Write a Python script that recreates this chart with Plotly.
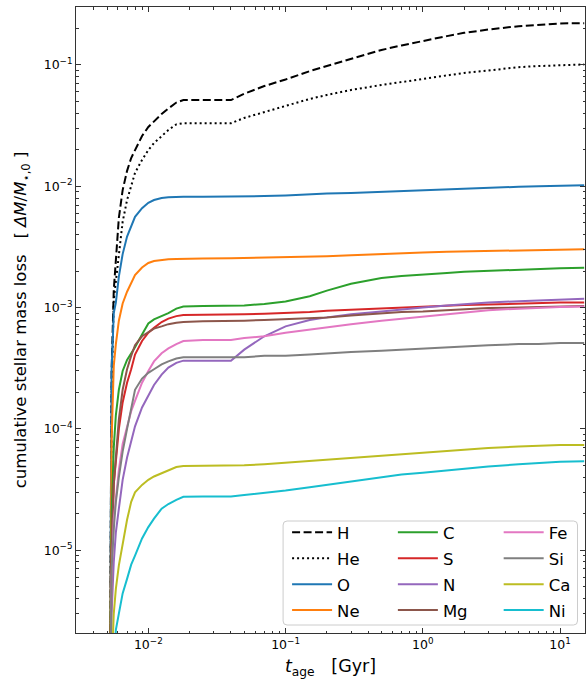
import plotly.graph_objects as go

# Time grid (Gyr)
t_age = [0.0052, 0.0054, 0.0056, 0.0058, 0.0061, 0.0065, 0.007, 0.0075, 0.008, 0.009,
         0.010, 0.011, 0.0125, 0.014, 0.016, 0.018, 0.025, 0.04, 0.05, 0.07,
         0.1, 0.15, 0.2, 0.3, 0.5, 0.7, 1.0, 1.5, 2.0, 3.0,
         5.0, 7.0, 10.0, 15.0]

H = [1e-7, 3e-4, 1.4e-3, 2.7e-3, 5.5e-3, 9.3e-3, 1.34e-2, 1.71e-2, 2.0e-2, 2.6e-2,
     3.08e-2, 3.45e-2, 3.94e-2, 4.38e-2, 4.9e-2, 5.14e-2, 5.14e-2, 5.14e-2, 5.8e-2, 6.7e-2,
     7.6e-2, 8.9e-2, 9.8e-2, 0.112, 0.133, 0.145, 0.158, 0.173, 0.184, 0.196,
     0.209, 0.215, 0.220, 0.221]
He = [1e-7, 2e-4, 1.16e-3, 1.6e-3, 2.7e-3, 5.1e-3, 7.7e-3, 1.02e-2, 1.29e-2, 1.65e-2,
      1.99e-2, 2.27e-2, 2.6e-2, 2.91e-2, 3.24e-2, 3.31e-2, 3.31e-2, 3.31e-2, 3.66e-2, 4.1e-2,
      4.6e-2, 5.25e-2, 5.66e-2, 6.22e-2, 6.84e-2, 7.24e-2, 7.67e-2, 8.27e-2, 8.6e-2, 9.0e-2,
      9.6e-2, 9.8e-2, 0.100, 0.101]
O = [1e-7, 3e-4, 9e-4, 1.1e-3, 1.8e-3, 2.76e-3, 3.85e-3, 4.7e-3, 5.6e-3, 6.6e-3,
     7.3e-3, 7.7e-3, 8.0e-3, 8.1e-3, 8.2e-3, 8.2e-3, 8.2e-3, 8.2e-3, 8.3e-3, 8.3e-3,
     8.4e-3, 8.6e-3, 8.7e-3, 8.8e-3, 9.0e-3, 9.2e-3, 9.3e-3, 9.5e-3, 9.6e-3, 9.8e-3,
     9.9e-3, 1.0e-2, 1.01e-2, 1.02e-2]
Ne = [1e-7, 8e-5, 3.3e-4, 5e-4, 7.8e-4, 1.08e-3, 1.35e-3, 1.6e-3, 1.85e-3, 2.14e-3,
      2.33e-3, 2.42e-3, 2.47e-3, 2.5e-3, 2.52e-3, 2.53e-3, 2.54e-3, 2.55e-3, 2.56e-3, 2.57e-3,
      2.59e-3, 2.62e-3, 2.65e-3, 2.7e-3, 2.77e-3, 2.8e-3, 2.84e-3, 2.88e-3, 2.9e-3, 2.94e-3,
      2.98e-3, 3.0e-3, 3.02e-3, 3.03e-3]
C = [1e-7, 2e-5, 7e-5, 1.3e-4, 2.1e-4, 3.0e-4, 3.7e-4, 4.2e-4, 4.7e-4, 6.0e-4,
     7.4e-4, 8.0e-4, 8.5e-4, 9.0e-4, 9.8e-4, 1.02e-3, 1.03e-3, 1.03e-3, 1.04e-3, 1.07e-3,
     1.12e-3, 1.24e-3, 1.38e-3, 1.57e-3, 1.75e-3, 1.82e-3, 1.88e-3, 1.93e-3, 1.97e-3, 2.01e-3,
     2.06e-3, 2.09e-3, 2.11e-3, 2.13e-3]
S = [1e-7, 1e-5, 3.5e-5, 5.5e-5, 1.0e-4, 1.65e-4, 2.4e-4, 3.1e-4, 4.1e-4, 5.3e-4,
     6.2e-4, 6.8e-4, 7.6e-4, 8.1e-4, 8.5e-4, 8.7e-4, 8.7e-4, 8.7e-4, 8.8e-4, 8.9e-4,
     9.0e-4, 9.2e-4, 9.4e-4, 9.6e-4, 9.8e-4, 1.0e-3, 1.02e-3, 1.04e-3, 1.05e-3, 1.06e-3,
     1.08e-3, 1.09e-3, 1.1e-3, 1.1e-3]
N = [1e-7, 3e-6, 8e-6, 1.4e-5, 2.2e-5, 3.8e-5, 5.8e-5, 8.0e-5, 1.05e-4, 1.5e-4,
     1.9e-4, 2.3e-4, 2.8e-4, 3.2e-4, 3.5e-4, 3.65e-4, 3.65e-4, 3.65e-4, 4.5e-4, 5.8e-4,
     7.0e-4, 7.9e-4, 8.3e-4, 8.8e-4, 9.3e-4, 9.7e-4, 1.0e-3, 1.04e-3, 1.07e-3, 1.1e-3,
     1.13e-3, 1.15e-3, 1.17e-3, 1.18e-3]
Mg = [1e-7, 1e-5, 3.5e-5, 6e-5, 1.2e-4, 2.1e-4, 3.1e-4, 4.0e-4, 4.9e-4, 5.8e-4,
      6.3e-4, 6.7e-4, 7.0e-4, 7.3e-4, 7.5e-4, 7.6e-4, 7.7e-4, 7.7e-4, 7.8e-4, 7.9e-4,
      8.0e-4, 8.2e-4, 8.3e-4, 8.6e-4, 9.0e-4, 9.2e-4, 9.3e-4, 9.5e-4, 9.7e-4, 9.9e-4,
      1.0e-3, 1.01e-3, 1.02e-3, 1.03e-3]
Fe = [1e-7, 6e-6, 1.8e-5, 2.8e-5, 4.6e-5, 7.5e-5, 1.05e-4, 1.4e-4, 1.7e-4, 2.4e-4,
      3.0e-4, 3.6e-4, 4.2e-4, 4.6e-4, 5.0e-4, 5.3e-4, 5.4e-4, 5.4e-4, 5.6e-4, 5.8e-4,
      6.2e-4, 6.6e-4, 6.9e-4, 7.3e-4, 7.8e-4, 8.1e-4, 8.5e-4, 8.9e-4, 9.2e-4, 9.5e-4,
      9.8e-4, 1.0e-3, 1.01e-3, 1.02e-3]
Si = [1e-7, 7e-6, 1.5e-5, 2.5e-5, 4.0e-5, 6.5e-5, 1.0e-4, 1.5e-4, 2.1e-4, 2.6e-4,
      2.9e-4, 3.1e-4, 3.4e-4, 3.6e-4, 3.8e-4, 3.9e-4, 3.9e-4, 3.9e-4, 3.9e-4, 4.0e-4,
      4.0e-4, 4.1e-4, 4.2e-4, 4.3e-4, 4.4e-4, 4.5e-4, 4.6e-4, 4.7e-4, 4.8e-4, 4.9e-4,
      5.0e-4, 5.0e-4, 5.1e-4, 5.1e-4]
Ca = [1e-7, 1e-6, 3e-6, 4.8e-6, 7.5e-6, 1.15e-5, 1.78e-5, 2.5e-5, 3.0e-5, 3.45e-5,
      3.8e-5, 4.05e-5, 4.3e-5, 4.55e-5, 4.85e-5, 4.95e-5, 4.95e-5, 4.95e-5, 5.0e-5, 5.1e-5,
      5.25e-5, 5.45e-5, 5.6e-5, 5.8e-5, 6.05e-5, 6.2e-5, 6.4e-5, 6.6e-5, 6.75e-5, 6.95e-5,
      7.15e-5, 7.25e-5, 7.35e-5, 7.35e-5]
Ni = [1e-7, 1e-7, 1e-6, 2.2e-6, 3.0e-6, 4.4e-6, 5.8e-6, 7.6e-6, 9.0e-6, 1.25e-5,
      1.55e-5, 1.82e-5, 2.2e-5, 2.4e-5, 2.6e-5, 2.75e-5, 2.77e-5, 2.77e-5, 2.85e-5, 2.95e-5,
      3.1e-5, 3.3e-5, 3.45e-5, 3.7e-5, 4.0e-5, 4.2e-5, 4.35e-5, 4.55e-5, 4.7e-5, 4.9e-5,
      5.1e-5, 5.25e-5, 5.35e-5, 5.4e-5]

# Tick labels
x_tickvals = [1e-2, 1e-1, 1e0, 1e1]
x_ticktext = ["10<sup>−2</sup>", "10<sup>−1</sup>", "10<sup>0</sup>", "10<sup>1</sup>"]
y_tickvals = [1e-5, 1e-4, 1e-3, 1e-2, 1e-1]
y_ticktext = ["10<sup>−5</sup>", "10<sup>−4</sup>", "10<sup>−3</sup>", "10<sup>−2</sup>", "10<sup>−1</sup>"]

series = [
    # name, values, colour, dash, legend column
    ("H", H, "black", "8px,3.5px", "legend"),
    ("He", He, "black", "2px,3px", "legend"),
    ("O", O, "#1f77b4", "solid", "legend"),
    ("Ne", Ne, "#ff7f0e", "solid", "legend"),
    ("C", C, "#2ca02c", "solid", "legend2"),
    ("S", S, "#d62728", "solid", "legend2"),
    ("N", N, "#9467bd", "solid", "legend2"),
    ("Mg", Mg, "#8c564b", "solid", "legend2"),
    ("Fe", Fe, "#e377c2", "solid", "legend3"),
    ("Si", Si, "#7f7f7f", "solid", "legend3"),
    ("Ca", Ca, "#bcbd22", "solid", "legend3"),
    ("Ni", Ni, "#17becf", "solid", "legend3"),
]

FONT = "DejaVu Sans"
fig = go.Figure()
for name, vals, col, dash, leg in series:
    fig.add_trace(go.Scatter(
        x=t_age, y=vals, mode="lines", name=name,
        line=dict(color=col, width=2, dash=dash),
        legend=leg, legendgroup=name,
    ))

L, R, T, B = 75.5, 585.5, 7, 633
W, Hh = 587, 679
pw, ph = R - L, B - T

def px(x):
    return (x - L) / pw

def py(y):
    return (B - y) / ph

leg_common = dict(bgcolor="rgba(0,0,0,0)", borderwidth=0, font=dict(family=FONT, size=16.5, color="black"),
                  yanchor="top", xanchor="left", tracegroupgap=1.5, itemwidth=40)
legtop = py(515)

# legend frame
x0, x1, y0, y1 = px(283), px(578), py(625), py(521)
rx, ry = 4 / pw, 4 / ph
path = (f"M{x0+rx},{y0} L{x1-rx},{y0} Q{x1},{y0} {x1},{y0+ry} L{x1},{y1-ry} Q{x1},{y1} {x1-rx},{y1} "
        f"L{x0+rx},{y1} Q{x0},{y1} {x0},{y1-ry} L{x0},{y0+ry} Q{x0},{y0} {x0+rx},{y0} Z")

fig.update_layout(
    width=W, height=Hh,
    margin=dict(l=L, r=W - R, t=T, b=Hh - B),
    paper_bgcolor="white", plot_bgcolor="white",
    font=dict(family=FONT, color="black"),
    showlegend=True,
    legend=dict(x=px(287), y=legtop, **leg_common),
    legend2=dict(x=px(393), y=legtop, **leg_common),
    legend3=dict(x=px(499), y=legtop, **leg_common),
    shapes=[dict(type="path", path=path, xref="paper", yref="paper",
                 line=dict(color="#cccccc", width=1), fillcolor="rgba(255,255,255,0.8)", layer="above")],
)

minor_x = [m * 10.0 ** e for e in range(-3, 2) for m in range(2, 10)]
minor_y = [m * 10.0 ** e for e in range(-6, 0) for m in range(2, 10)]

axis_common = dict(
    type="log", showgrid=False, zeroline=False, automargin=False,
    showline=True, linecolor="#333333", linewidth=1, mirror="ticks",
    ticks="inside", ticklen=5, tickwidth=1, tickcolor="#333333",
    tickmode="array",
    tickfont=dict(family=FONT, size=12.5, color="black"),
)

fig.update_xaxes(
    range=[-2.527, 1.182], tickvals=x_tickvals, ticktext=x_ticktext,
    minor=dict(tickmode="array", tickvals=minor_x, ticks="inside", ticklen=2.5,
               tickwidth=0.8, tickcolor="#333333", showgrid=False),
    title=dict(text="<i>t</i><sub>age</sub>\u00a0\u00a0\u00a0[Gyr]", font=dict(family=FONT, size=17.5), standoff=9),
    **axis_common,
)
fig.update_yaxes(
    range=[-5.683, -0.522], tickvals=y_tickvals, ticktext=y_ticktext,
    minor=dict(tickmode="array", tickvals=minor_y, ticks="inside", ticklen=2.5,
               tickwidth=0.8, tickcolor="#333333", showgrid=False),
    title=dict(text="cumulative stellar mass loss\u00a0\u00a0\u00a0[ <i>ΔM</i>/<i>M</i><sub>⋆,0</sub> ]"
                    + "\u00a0" * 5,
               font=dict(family=FONT, size=16.5), standoff=12),
    **axis_common,
)

fig.write_html("out.html", config={"displayModeBar": False},
               post_script="document.body.style.margin='0px';document.body.style.overflow='hidden';")
